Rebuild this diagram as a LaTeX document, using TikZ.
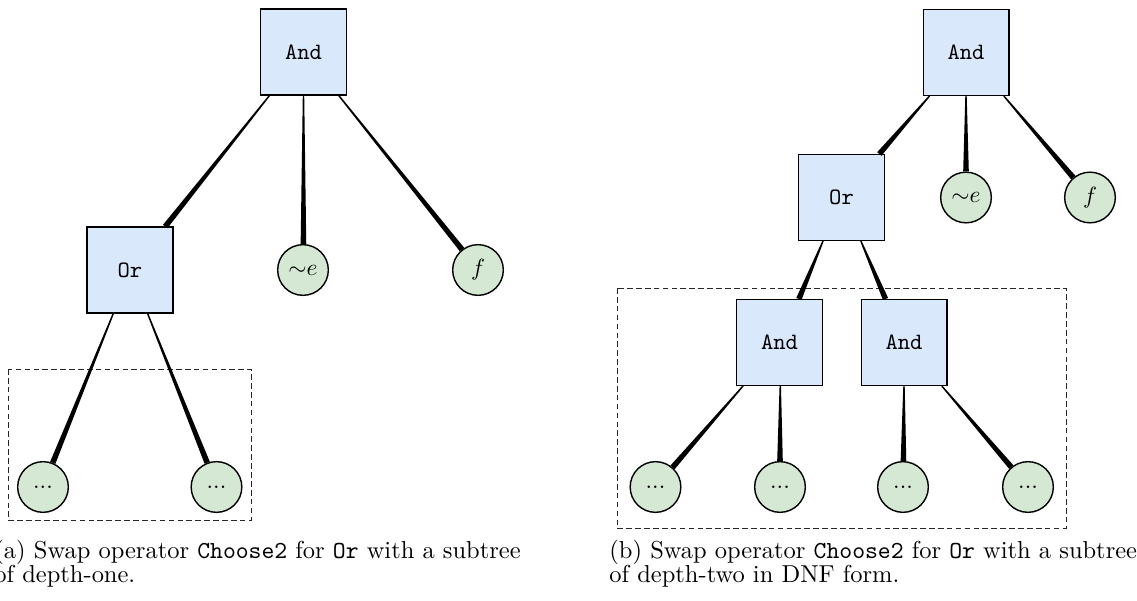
\documentclass[tikz,border=0pt]{standalone}
\usetikzlibrary{calc}
\definecolor{boxblue}{HTML}{DAE8FC}
\definecolor{leafgreen}{HTML}{D5E8D4}
\tikzset{
  opbox/.style={draw=black, fill=boxblue, line width=0.6pt, minimum size=12.84mm, inner sep=0pt, font=\ttfamily},
  leaf/.style={circle, draw=black, fill=leafgreen, line width=0.6pt, minimum size=7.6mm, inner sep=0pt},
  group/.style={draw=black!85, line width=0.4pt, dash pattern=on 2.4pt off 1.4pt},
  captext/.style={anchor=base west, inner sep=0pt, font=\fontsize{10.45}{12.5}\selectfont}
}
\newcommand\conn[2]{%
  \path let \p1=(#1), \p2=(#2), \n1={atan2(\y2-\y1,\x2-\x1)}, \n2={\n1+180} in
    coordinate (cs) at (#1.\n1) coordinate (ce) at (#2.\n2);
  \fill ($(cs)!0.3pt!90:(ce)$) -- ($(cs)!0.3pt!-90:(ce)$) -- ($(ce)!1.2pt!90:(cs)$) -- ($(ce)!1.2pt!-90:(cs)$) -- cycle;
}
\begin{document}
\begin{tikzpicture}[x=0.015cm, y=-0.015cm]
\useasboundingbox (0,0) rectangle (1137,601);
% ---------- left panel ----------
\draw[group] (8,369) rectangle (251,520);
\node[opbox] (A1) at (303.5,52) {And};
\node[opbox] (O1) at (130,270) {Or};
\node[leaf] (E1) at (303,270) {$\mathord{\sim}e$};
\node[leaf] (F1) at (478,270) {$f$};
\node[leaf] (L1) at (43,487) {...};
\node[leaf] (L2) at (216.5,487) {...};
\conn{A1}{O1}
\conn{A1}{E1}
\conn{A1}{F1}
\conn{O1}{L1}
\conn{O1}{L2}
\node[captext] (ca1) at (-6,558) {(a) Swap operator \texttt{Choose2} for \texttt{Or} with a subtree};
\node[captext] (ca2) at (-6,583) {of depth-one.};
% ---------- right panel ----------
\draw[group] (617,288) rectangle (1066,528);
\node[opbox] (A2) at (966,52.5) {And};
\node[opbox] (O2) at (841.5,197.5) {Or};
\node[leaf] (E2) at (966,197.5) {$\mathord{\sim}e$};
\node[leaf] (F2) at (1090,197.5) {$f$};
\node[opbox] (B1) at (779.5,342.5) {And};
\node[opbox] (B2) at (904,342.5) {And};
\node[leaf] (M1) at (655.5,487) {...};
\node[leaf] (M2) at (780,487) {...};
\node[leaf] (M3) at (903,487) {...};
\node[leaf] (M4) at (1028,487) {...};
\conn{A2}{O2}
\conn{A2}{E2}
\conn{A2}{F2}
\conn{O2}{B1}
\conn{O2}{B2}
\conn{B1}{M1}
\conn{B1}{M2}
\conn{B2}{M3}
\conn{B2}{M4}
\node[captext] (cb1) at (609,558) {(b) Swap operator \texttt{Choose2} for \texttt{Or} with a subtree};
\node[captext] (cb2) at (609,583) {of depth-two in DNF form.};
\end{tikzpicture}
\end{document}
